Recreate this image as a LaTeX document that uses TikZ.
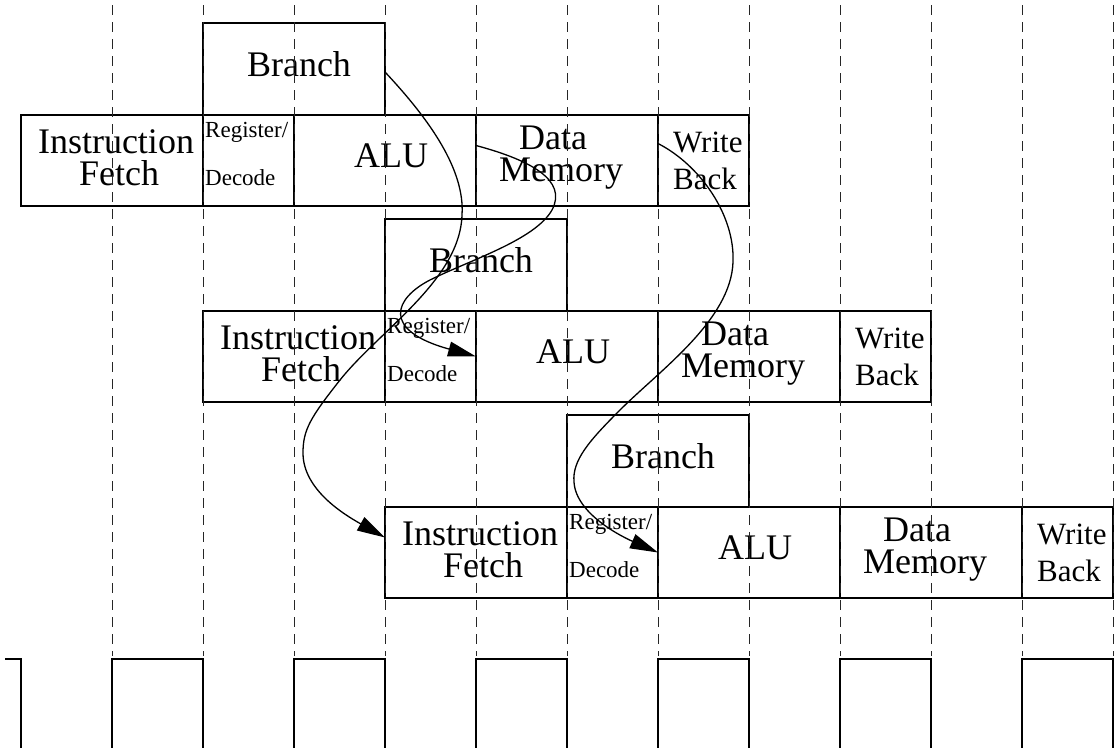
\documentclass[tikz,border=0pt]{standalone}
\usepackage{fontspec}
\setmainfont{Liberation Serif}
\usetikzlibrary{arrows.meta}
\tikzset{
  box/.style={draw, line width=1.3pt, inner sep=0pt, outer sep=0pt, anchor=north west},
  big/.style={font=\fontsize{36}{32}\selectfont, align=center, inner sep=0pt},
  wbtxt/.style={font=\fontsize{31}{37}\selectfont, align=left, inner sep=0pt, anchor=west},
  small/.style={font=\fontsize{23}{23}\selectfont, inner sep=0pt, anchor=base west},
  gridline/.style={dash pattern=on 10pt off 7pt, line width=1pt, black!85},
  flow/.style={line width=1.3pt, -{Triangle[length=28pt,width=15pt]}},
  clock/.style={line width=1.3pt}
}
\begin{document}
\begin{tikzpicture}[x=1pt,y=-1pt]
\useasboundingbox (0,0) rectangle (1118,747);
\clip (0,0) rectangle (1118,747);
% pipeline rows
\foreach \r/\xo/\ty in {1/21/115, 2/203/311, 3/385/507}{
  \node[box, minimum width=182pt, minimum height=92pt] (br\r) at ({\xo+182},{\ty-92}) {};
  \node[box, minimum width=182pt, minimum height=91pt] (if\r) at (\xo,\ty) {};
  \node[box, minimum width=91pt, minimum height=91pt] (rd\r) at ({\xo+182},\ty) {};
  \node[box, minimum width=182pt, minimum height=91pt] (alu\r) at ({\xo+273},\ty) {};
  \node[box, minimum width=182pt, minimum height=91pt] (dm\r) at ({\xo+455},\ty) {};
  \node[box, minimum width=91pt, minimum height=91pt] (wb\r) at ({\xo+637},\ty) {};
  \node[big] (brt\r) at ([xshift=5pt,yshift=5pt]br\r.center) {Branch};
  \node[big] (ift\r) at ([xshift=4pt,yshift=3pt]if\r.center) {Instruction\\\rule{6pt}{0pt}Fetch};
  \node[big] (alut\r) at ([xshift=6pt,yshift=5pt]alu\r.center) {ALU};
  \node[big] (dmt\r) at ([xshift=-6pt,yshift=3pt]dm\r.center) {Data\rule{16pt}{0pt}\\Memory};
  \node[wbtxt] (wbt\r) at ([xshift=15pt]wb\r.west) {Write\\Back};
  \node[small] (rgt\r) at ([xshift=2pt,yshift=-22pt]rd\r.north west) {Register/};
  \node[small] (dct\r) at ([xshift=2pt,yshift=21pt]rd\r.south west) {Decode};
}
% clock cycle boundaries
\foreach \k in {1,...,12}{
  \draw[gridline] ({21+91*\k},5) -- ({21+91*\k},656);
}
% clock waveform
\draw[clock] (5,659) -- (21,659) -- (21,760);
\foreach \k in {1,3,...,11}{
  \draw[clock] ({21+91*\k},760) -- ({21+91*\k},659) -- ({21+91*(\k+1)},659) -- ({21+91*(\k+1)},760);
}
% forwarding / branch arrows
\draw[flow] ([yshift=-3pt]br1.east) .. controls (430,120) and (465,170) .. (462,215)
  .. controls (460,280) and (380,330) .. (340,380)
  .. controls (310,418) and (303,430) .. (303,453)
  .. controls (303,490) and (345,515) .. ([yshift=15pt]if3.west);
\draw[flow] ([yshift=15pt]dm1.west) .. controls (530,160) and (568,180) .. (552,210)
  .. controls (535,240) and (470,260) .. (430,280)
  .. controls (395,298) and (380,330) .. (alu2.west);
\draw[flow] ([yshift=17pt]wb1.west) .. controls (700,165) and (735,215) .. (733,262)
  .. controls (731,320) and (660,370) .. (620,410)
  .. controls (590,440) and (572,460) .. (574,482)
  .. controls (576,515) and (625,538) .. (alu3.west);
\end{tikzpicture}
\end{document}
